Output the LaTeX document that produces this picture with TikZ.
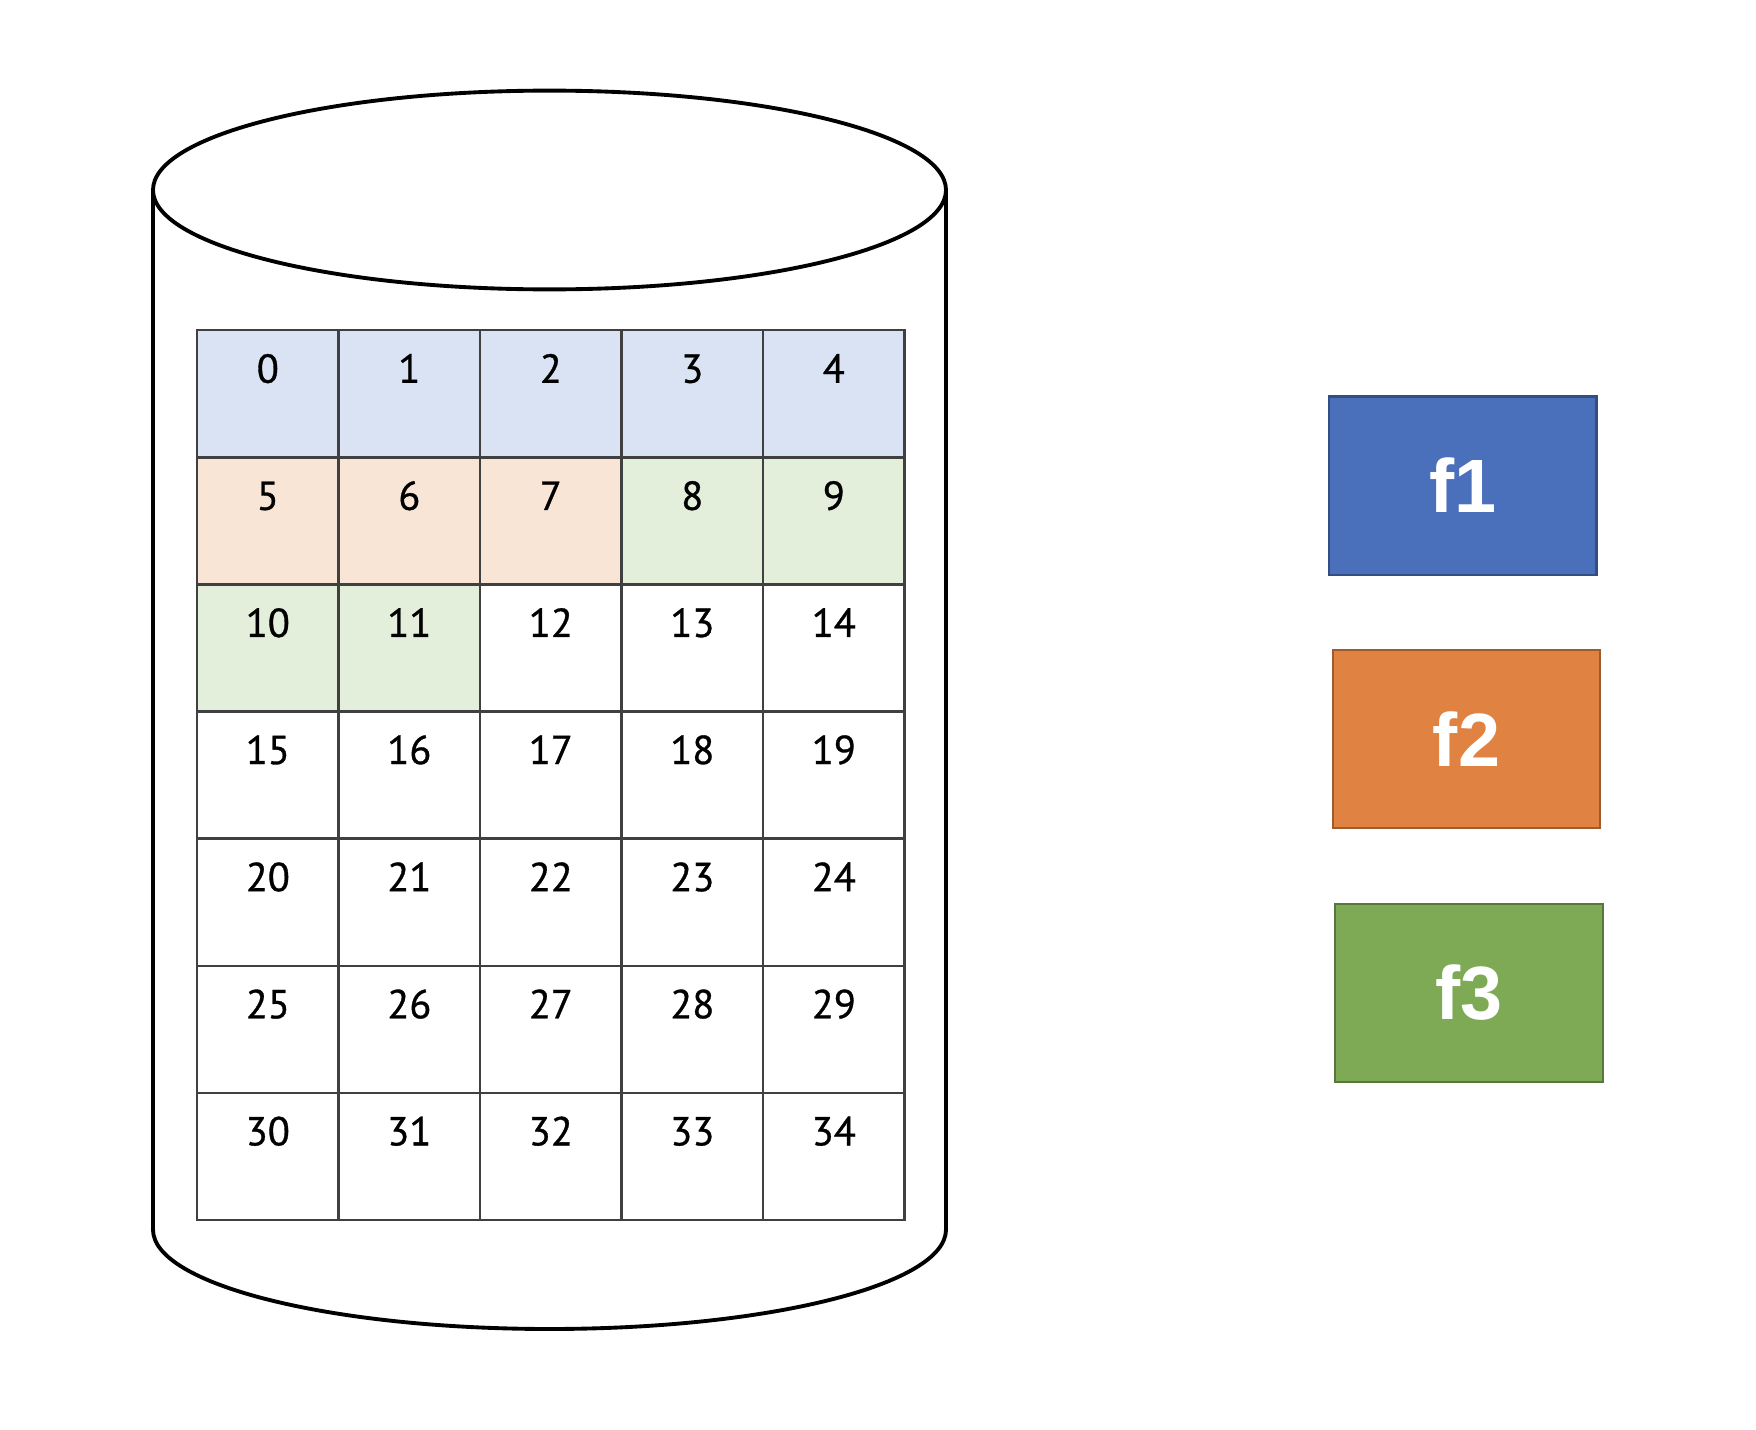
\documentclass[tikz,border=0pt]{standalone}
\usepackage{fontspec}
\setmainfont{PT Sans}
\newfontfamily\cellfont[FakeBold=0.8]{PT Sans}
\newfontfamily\boxfont{Liberation Sans}
\usepackage{tikz}
\usetikzlibrary{positioning}

\definecolor{rowblue}{HTML}{DAE3F3}
\definecolor{roworange}{HTML}{F8E5D6}
\definecolor{rowgreen}{HTML}{E3EFDA}
\definecolor{fileblue}{HTML}{4A70BC}
\definecolor{fileorange}{HTML}{E08242}
\definecolor{filegreen}{HTML}{7EAA55}

\begin{document}
\begin{tikzpicture}[x=0.01cm,y=-0.01cm,
  cell/.style={draw=black!75,line width=0.7pt,inner sep=0pt,
    text width=1.415cm,align=center,text height=0.525cm,text depth=0.746cm,
    font=\cellfont\fontsize{11.5}{12}\selectfont},
  filebox/.style={draw=#1!70!black,fill=#1,line width=0.6pt,
    minimum width=2.674cm,minimum height=1.78cm,text=white,
    font=\boxfont\bfseries\fontsize{21.5}{24}\selectfont}]
\useasboundingbox (0,0) rectangle (1756,1430);
\def\topcap{(549.5,190) ellipse (396.5 and 99.4)}
% cylinder
  \filldraw[fill=white,line width=1.1pt] (153,190) -- (153,1229.6) arc (180:0:396.5 and 99.4) -- (946,190);
  \filldraw[fill=white,line width=1.1pt] \topcap;
% blocks
  \foreach \i in {0,...,34}{
    \pgfmathtruncatemacro\col{mod(\i,5)}
    \pgfmathtruncatemacro\row{int(\i/5)}
    \ifnum\i<5 \def\shade{rowblue}\else
      \ifnum\i<8 \def\shade{roworange}\else
        \ifnum\i<12 \def\shade{rowgreen}\else \def\shade{white}\fi\fi\fi
    \node[cell,fill=\shade,anchor=north west] (c\i) at (195.8+141.5*\col,329+127.1*\row) {\i};
  }
% files
  \node[filebox=fileblue] (f1) at (1462.7,485.6) {f1};
  \node[filebox=fileorange] (f2) at (1466.6,739) {f2};
  \node[filebox=filegreen] (f3) at (1469.1,993) {f3};
\end{tikzpicture}
\end{document}
